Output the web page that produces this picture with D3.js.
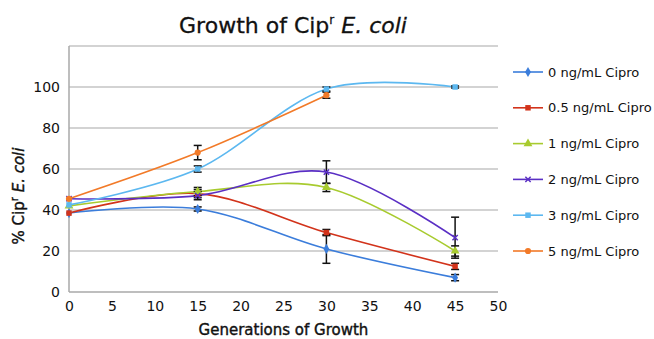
<!DOCTYPE html>
<html>
<head>
<meta charset="utf-8">
<script src="https://cdn.jsdelivr.net/npm/d3@7"></script>
<style>
  body { margin: 0; background: #fff; }
  text { font-family: "DejaVu Sans", "Liberation Sans", sans-serif; fill: #111; }
</style>
</head>
<body>
<div id="my_dataviz"></div>
<script>
// data
var generations = [0, 15, 30, 45];
var seriesNames = ["0 ng/mL Cipro", "0.5 ng/mL Cipro", "1 ng/mL Cipro", "2 ng/mL Cipro", "3 ng/mL Cipro", "5 ng/mL Cipro"];
var cipro0 = [38.5, 40.5, 21, 7];
var cipro05 = [38.5, 48, 29, 12.5];
var cipro1 = [42, 49, 51, 20];
var cipro2 = [45.5, 47, 58.5, 26.5];
var cipro3 = [42.5, 60, 99, 100];
var cipro5 = [45.5, 68, 96];
var err0 = [0, 1, 7, 1.5];
var err05 = [0, 2, 1.5, 1.5];
var err1 = [0, 2, 2, 2.5];
var err2 = [0, 2, 5.5, 10];
var err3 = [0, 1.5, 1, 0.5];
var err5 = [0, 3.5, 1.5];
var xTicks = [0, 5, 10, 15, 20, 25, 30, 35, 40, 45, 50];
var yTicks = [0, 20, 40, 60, 80, 100, 120];

var colors = ["#3b7ddb", "#d2331b", "#a8cb2f", "#5a2fc4", "#5cb8f0", "#f27a28"];
var markers = ["diamond", "square", "triangle", "cross", "square", "circle"];
var allValues = [cipro0, cipro05, cipro1, cipro2, cipro3, cipro5];
var allErrors = [err0, err05, err1, err2, err3, err5];

var series = seriesNames.map(function(name, i) {
    return {
        name: name,
        color: colors[i],
        marker: markers[i],
        points: allValues[i].map(function(v, j) {
            return { x: generations[j], y: v, e: allErrors[i][j] };
        })
    };
});

var W = 654, H = 339;
var margin = { top: 46, right: 156, bottom: 47, left: 69 };
var width = W - margin.left - margin.right;
var height = H - margin.top - margin.bottom;

var svg = d3.select("#my_dataviz")
    .append("svg")
    .attr("width", W)
    .attr("height", H);

var g = svg.append("g")
    .attr("transform", "translate(" + margin.left + "," + margin.top + ")");

var x = d3.scaleLinear().domain([0, 50]).range([0, width]);
var y = d3.scaleLinear().domain([0, 120]).range([height, 0]);

// grid lines
g.selectAll(".grid")
    .data(yTicks.filter(function(d) { return d > 0; }))
    .enter()
    .append("line")
    .attr("x1", 0)
    .attr("x2", width)
    .attr("y1", function(d) { return y(d); })
    .attr("y2", function(d) { return y(d); })
    .style("stroke", "#c4c4c4")
    .style("stroke-width", 1.5);

// axes
g.append("line")
    .attr("x1", 0).attr("x2", 0)
    .attr("y1", 0).attr("y2", height)
    .style("stroke", "#a8a8a8")
    .style("stroke-width", 1.5);
g.append("line")
    .attr("x1", 0).attr("x2", width)
    .attr("y1", height).attr("y2", height)
    .style("stroke", "#a8a8a8")
    .style("stroke-width", 1.5);

var xAxis = g.append("g")
    .attr("transform", "translate(0," + height + ")")
    .call(d3.axisBottom(x).tickValues(xTicks).tickSize(0).tickPadding(9));
xAxis.select(".domain").remove();
xAxis.selectAll("text").style("font-size", "14px").style("fill", "#111");

var yAxis = g.append("g")
    .call(d3.axisLeft(y).tickValues(yTicks.slice(0, 6)).tickSize(0).tickPadding(9));
yAxis.select(".domain").remove();
yAxis.selectAll("text").style("font-size", "14px").style("fill", "#111");

// smoothed lines
var line = d3.line()
    .x(function(d) { return x(d.x); })
    .y(function(d) { return y(d.y); })
    .curve(d3.curveCardinal.tension(0));

g.selectAll(".series")
    .data(series)
    .enter()
    .append("path")
    .attr("d", function(d) { return line(d.points); })
    .style("fill", "none")
    .style("stroke", function(d) { return d.color; })
    .style("stroke-width", 1.6);

// error bars
var errData = [];
series.forEach(function(s) {
    s.points.forEach(function(p) { if (p.e > 0) errData.push(p); });
});
var cap = 4;
var eb = g.selectAll(".err")
    .data(errData)
    .enter()
    .append("g")
    .style("stroke", "#111")
    .style("stroke-width", 1.5);
eb.append("line")
    .attr("x1", function(d) { return x(d.x); })
    .attr("x2", function(d) { return x(d.x); })
    .attr("y1", function(d) { return y(d.y + d.e); })
    .attr("y2", function(d) { return y(d.y - d.e); });
eb.append("line")
    .attr("x1", function(d) { return x(d.x) - cap; })
    .attr("x2", function(d) { return x(d.x) + cap; })
    .attr("y1", function(d) { return y(d.y + d.e); })
    .attr("y2", function(d) { return y(d.y + d.e); });
eb.append("line")
    .attr("x1", function(d) { return x(d.x) - cap; })
    .attr("x2", function(d) { return x(d.x) + cap; })
    .attr("y1", function(d) { return y(d.y - d.e); })
    .attr("y2", function(d) { return y(d.y - d.e); });

// markers
function drawMarker(sel, type, color) {
    if (type === "cross") {
        sel.append("path")
            .attr("d", d3.symbol().type(d3.symbolX).size(20)())
            .style("fill", "none")
            .style("stroke", color)
            .style("stroke-width", 1.5);
        return;
    }
    var sym = { diamond: d3.symbolDiamond, square: d3.symbolSquare, triangle: d3.symbolTriangle, circle: d3.symbolCircle }[type];
    sel.append("path")
        .attr("d", d3.symbol().type(sym).size(type === "triangle" ? 34 : 30)())
        .style("fill", color);
}

series.forEach(function(s) {
    s.points.forEach(function(p) {
        var m = g.append("g").attr("transform", "translate(" + x(p.x) + "," + y(p.y) + ")");
        drawMarker(m, s.marker, s.color);
    });
});

// title
var title = svg.append("text")
    .attr("x", 293)
    .attr("y", 33)
    .attr("text-anchor", "middle")
    .style("font-size", "22px")
    .style("stroke", "#111")
    .style("stroke-width", 0.3);
title.append("tspan").text("Growth of Cip");
title.append("tspan").attr("dy", -9).style("font-size", "12px").text("r");
title.append("tspan").attr("dy", 9).style("font-style", "italic").text(" E. coli");

// axis titles
svg.append("text")
    .attr("x", margin.left + width / 2 - 0)
    .attr("y", 335)
    .attr("text-anchor", "middle")
    .style("font-size", "15px")
    .style("stroke", "#111")
    .style("stroke-width", 0.4)
    .text("Generations of Growth");

var yt = svg.append("text")
    .attr("transform", "translate(24," + 196 + ") rotate(-90)")
    .attr("text-anchor", "middle")
    .style("font-size", "15px")
    .style("stroke", "#111")
    .style("stroke-width", 0.4);
yt.append("tspan").text("% Cip");
yt.append("tspan").attr("dy", -6).style("font-size", "10px").text("r");
yt.append("tspan").attr("dy", 6).style("font-style", "italic").text(" E. coli");

// legend
var legend = svg.selectAll(".legend")
    .data(series)
    .enter()
    .append("g")
    .attr("transform", function(d, i) { return "translate(513," + (72 + i * 35.8) + ")"; });
legend.append("line")
    .attr("x1", 0).attr("x2", 30)
    .style("stroke", function(d) { return d.color; })
    .style("stroke-width", 1.6);
legend.each(function(d) {
    var m = d3.select(this).append("g").attr("transform", "translate(15,0)");
    drawMarker(m, d.marker, d.color);
});
legend.append("text")
    .attr("x", 35)
    .attr("dy", "0.35em")
    .style("font-size", "13px")
    .text(function(d) { return d.name; });
</script>
</body>
</html>
